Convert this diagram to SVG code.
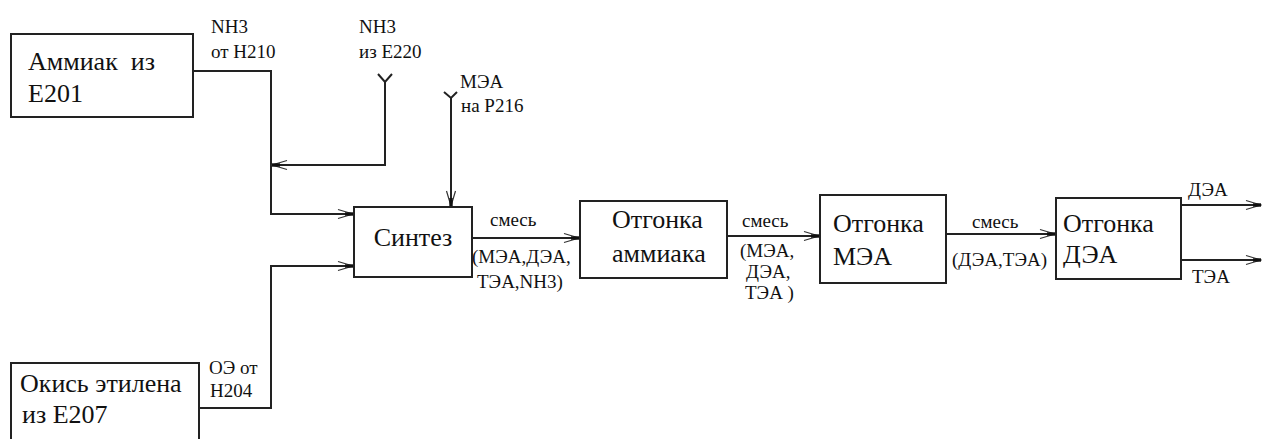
<svg xmlns="http://www.w3.org/2000/svg" width="1262" height="439" viewBox="0 0 1262 439">
<style>
.box{fill:#fff;stroke:#222;stroke-width:2}
.ln{fill:none;stroke:#222;stroke-width:2}
.bt{font-family:'Liberation Serif','Times New Roman',serif;font-size:26px;fill:#111}
.lt{font-family:'Liberation Serif','Times New Roman',serif;font-size:19px;fill:#111}
</style>
<defs>
<marker id="arr" markerUnits="userSpaceOnUse" markerWidth="24" markerHeight="14" refX="0" refY="0" viewBox="-20 -7 24 14" orient="auto" overflow="visible">
<path d="M-15,-4.5 L0,0 L-15,4.5" fill="none" stroke="#333" stroke-width="1.2"/>
<rect x="-8" y="-1.7" width="8" height="3.4" fill="#111"/>
</marker>
</defs>
<g id="connectors">
<path class="ln" d="M193,71 H271 V214 H353" marker-end="url(#arr)"/>
<path class="ln" d="M385,82 V165 H272" marker-end="url(#arr)"/>
<path class="ln" d="M378,74 L385,82 L392,74" stroke-width="1.5"/>
<path class="ln" d="M451,98 V206" marker-end="url(#arr)"/>
<path class="ln" d="M444,92 L451,98 L457,92" stroke-width="1.5"/>
<path class="ln" d="M199,408 H271 V266 H353" marker-end="url(#arr)"/>
<path class="ln" d="M472,238 H579" marker-end="url(#arr)"/>
<path class="ln" d="M727,236 H819" marker-end="url(#arr)"/>
<path class="ln" d="M946,234 H1055" marker-end="url(#arr)"/>
<path class="ln" d="M1181,205 H1261" marker-end="url(#arr)"/>
<path class="ln" d="M1181,260 H1261" marker-end="url(#arr)"/>
</g>
<g id="labels">
<text class="lt" x="211" y="33">NH3</text>
<text class="lt" x="211" y="58">от Н210</text>
<text class="lt" x="359" y="33">NH3</text>
<text class="lt" x="359" y="58">из Е220</text>
<text class="lt" x="460" y="88">МЭА</text>
<text class="lt" x="461" y="112">на Р216</text>
<text class="lt" x="490" y="226">смесь</text>
<text class="lt" x="472" y="263">(МЭА,ДЭА,</text>
<text class="lt" x="477" y="288">ТЭА,NH3)</text>
<text class="lt" x="742" y="227">смесь</text>
<text class="lt" x="740" y="257">(МЭА,</text>
<text class="lt" x="746" y="278">ДЭА,</text>
<text class="lt" x="745" y="299">ТЭА )</text>
<text class="lt" x="972" y="228">смесь</text>
<text class="lt" x="952" y="266">(ДЭА,ТЭА)</text>
<text class="lt" x="1188" y="196">ДЭА</text>
<text class="lt" x="1192" y="283">ТЭА</text>
<text class="lt" x="209" y="374">ОЭ от</text>
<text class="lt" x="210" y="397">Н204</text>
</g>
<g id="node-ammiak">
<rect class="box" x="11" y="34" width="182" height="83"/>
<text class="bt" x="28" y="70" xml:space="preserve">Аммиак  из</text>
<text class="bt" x="28" y="102">Е201</text>
</g>
<g id="node-okis">
<rect class="box" x="11" y="363" width="188" height="90"/>
<text class="bt" x="20" y="392">Окись этилена</text>
<text class="bt" x="22" y="423">из Е207</text>
</g>
<g id="node-sintez">
<rect class="box" x="354" y="207" width="118" height="70"/>
<text class="bt" x="413" y="246" text-anchor="middle">Синтез</text>
</g>
<g id="node-otgonka-ammiaka">
<rect class="box" x="580" y="201" width="147" height="77"/>
<text class="bt" x="612" y="228">Отгонка</text>
<text class="bt" x="612" y="262">аммиака</text>
</g>
<g id="node-otgonka-mea">
<rect class="box" x="820" y="195" width="126" height="88"/>
<text class="bt" x="833" y="232">Отгонка</text>
<text class="bt" x="833" y="265">МЭА</text>
</g>
<g id="node-otgonka-dea">
<rect class="box" x="1056" y="198" width="125" height="81"/>
<text class="bt" x="1063" y="232">Отгонка</text>
<text class="bt" x="1063" y="263">ДЭА</text>
</g>
</svg>
